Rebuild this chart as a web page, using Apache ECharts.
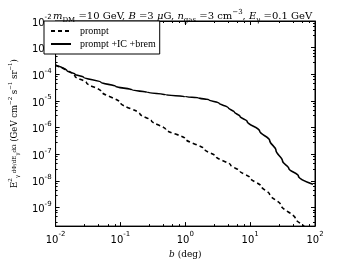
<!DOCTYPE html>
<html><head><meta charset="utf-8">
<script src="https://cdn.jsdelivr.net/npm/echarts@6/dist/echarts.min.js"></script>
<style>html,body{margin:0;padding:0;background:#fff}#c{width:350px;height:264px}</style>
</head><body><div id="c"></div>
<script>
// b (deg) and flux values
const bPrompt = [0.01, 0.02, 0.03, 0.05, 0.1, 0.2, 0.3, 0.5, 1, 2, 3, 5, 7, 10, 15, 20, 30, 50, 70, 90];
const yPrompt = [2.2e-4, 8.3e-5, 4.8e-5, 2.3e-5, 8.5e-6, 3.2e-6, 1.8e-6, 8.5e-7, 3.8e-7, 1.5e-7, 8.0e-8, 3.9e-8, 2.3e-8, 1.3e-8, 6.0e-9, 3.1e-9, 1.2e-9, 3.8e-10, 1.7e-10, 1.0e-10];
const bTotal = [0.01, 0.015, 0.02, 0.027, 0.05, 0.085, 0.15, 0.26, 0.5, 1.0, 1.6, 2.3, 3.3, 4.6, 5.7, 7, 9, 14, 20, 25, 31.6, 39.5, 55.6, 93];
const yTotal = [2.2e-4, 1.35e-4, 1.0e-4, 7.8e-5, 5.0e-5, 3.5e-5, 2.6e-5, 2.1e-5, 1.7e-5, 1.45e-5, 1.3e-5, 1.1e-5, 8.3e-6, 5.5e-6, 3.8e-6, 2.6e-6, 1.7e-6, 7.4e-7, 3.3e-7, 1.4e-7, 5.5e-8, 2.9e-8, 1.5e-8, 7.4e-9];
const seriesNames = ['prompt', 'prompt +IC +brem'];
const xRange = [0.01, 100];
const yRange = [2e-10, 1e-2];

const pairs = (xs, ys) => xs.map((x, i) => [x, ys[i]]);
const supFmt = v => {
  const l = Math.log10(v), e = Math.round(l);
  if (Math.abs(l - e) > 1e-6) return '';
  return '{b|10}{s|' + e + '}';
};
const tickRich = {
  b: {fontFamily: 'DejaVu Sans', fontSize: 10, color: '#000', lineHeight: 14, verticalAlign: 'bottom'},
  s: {fontFamily: 'DejaVu Sans', fontSize: 7, color: '#000', verticalAlign: 'top', lineHeight: 14}
};
const serif = 'DejaVu Serif';
const lserif = 'Liberation Serif';
const mathRich = {
  i: {fontFamily: serif, fontStyle: 'italic', fontWeight: 'normal', fontSize: 10, color: '#000', lineHeight: 15},
  r: {fontFamily: serif, fontWeight: 'normal', fontSize: 10, color: '#000', lineHeight: 15},
  sub: {fontFamily: serif, fontWeight: 'normal', fontSize: 7, color: '#000', verticalAlign: 'bottom', lineHeight: 15},
  sup: {fontFamily: serif, fontWeight: 'normal', fontSize: 7, color: '#000', verticalAlign: 'top', lineHeight: 15}
};
const yRich = {
  r: {fontFamily: serif, fontSize: 8.5, color: '#000', lineHeight: 13},
  sub: {fontFamily: serif, fontSize: 5.5, color: '#000', verticalAlign: 'bottom', lineHeight: 13},
  sup: {fontFamily: serif, fontSize: 5.5, color: '#000', verticalAlign: 'top', lineHeight: 13},
  f: {fontFamily: serif, fontSize: 5.5, color: '#000', lineHeight: 13}
};
const baseAxis = {
  type: 'log', logBase: 10,
  axisLine: {show: true, lineStyle: {color: '#000', width: 1}},
  axisTick: {show: true, inside: true, length: 4, lineStyle: {color: '#000'}},
  minorTick: {show: true, splitNumber: 5, length: 2, lineStyle: {color: '#000'}},
  splitLine: {show: false}
};
const chart = echarts.init(document.getElementById('c'));
chart.setOption({
  animation: false,
  backgroundColor: '#fff',
  title: {
    text: '{i|m}{sub|DM}{r| =10 GeV, }{i|B}{r| =3 }{i|μ}{r|G, }{i|n}{sub|gas}{r| =3 cm}{sup|−3}{r|, }{i|E}{sub|γ}{r| =0.1 GeV}',
    left: 48, top: 4,
    textStyle: {rich: mathRich, fontSize: 10, fontWeight: 'normal'}
  },
  legend: {
    orient: 'vertical', left: 44, top: 21,
    padding: [5, 4, 5, 6], itemGap: 3,
    itemWidth: 20, itemHeight: 9,
    borderColor: '#000', borderWidth: 1, backgroundColor: '#fff',
    itemStyle: {opacity: 0},
    textStyle: {fontFamily: lserif, fontSize: 10, color: '#000', padding: [0, 0, 0, 4]},
    data: seriesNames
  },
  grid: {left: 43, right: 35, top: 21, bottom: 33, show: true, borderColor: '#000', borderWidth: 1},
  xAxis: [
    Object.assign({}, baseAxis, {
      min: xRange[0], max: xRange[1], position: 'bottom',
      axisLabel: {formatter: supFmt, rich: tickRich, margin: 5},
      name: '{i|b}{r| (deg)}', nameLocation: 'middle', nameGap: 19,
      nameTextStyle: {rich: {i: {fontFamily: serif, fontStyle: 'italic', fontSize: 9, color: '#000'}, r: {fontFamily: serif, fontSize: 9, color: '#000'}}}
    }),
    Object.assign({}, baseAxis, {min: xRange[0], max: xRange[1], position: 'top', axisLabel: {show: false}})
  ],
  yAxis: [
    Object.assign({}, baseAxis, {
      min: yRange[0], max: yRange[1], position: 'left',
      axisLabel: {formatter: supFmt, rich: tickRich, margin: 4},
      name: '{r|E}{sup|2}{sub|γ}{f| dΦ/dE}{sub|γ}{f|dΩ}{r| (GeV cm}{sup|−2}{r| s}{sup|−1}{r| sr}{sup|−1}{r|)}',
      nameLocation: 'middle', nameRotate: 90, nameGap: 30,
      nameTextStyle: {rich: yRich}
    }),
    Object.assign({}, baseAxis, {min: yRange[0], max: yRange[1], position: 'right', axisLabel: {show: false}})
  ],
  series: [
    {name: seriesNames[0], type: 'line', data: pairs(bPrompt, yPrompt), showSymbol: false, symbol: 'none',
     smooth: 0.3, smoothMonotone: 'y', lineStyle: {color: '#000', width: 1.6, type: [4, 3]}, itemStyle: {color: '#000'}},
    {name: seriesNames[1], type: 'line', data: pairs(bTotal, yTotal), showSymbol: false, symbol: 'none',
     smooth: 0.35, smoothMonotone: 'y', lineStyle: {color: '#000', width: 1.6}, itemStyle: {color: '#000'}}
  ]
});
</script></body></html>
